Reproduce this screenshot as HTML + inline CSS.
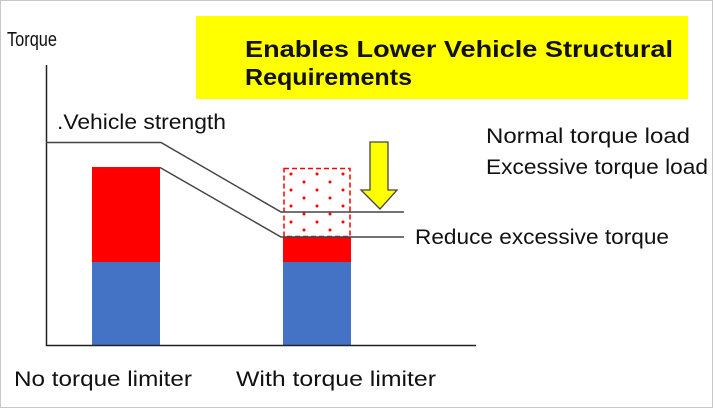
<!DOCTYPE html>
<html><head><meta charset="utf-8"><style>
html,body{margin:0;padding:0;background:#fff;}
svg{display:block;}
text{font-family:"Liberation Sans",sans-serif;fill:#111;}
</style></head><body>
<svg width="715" height="409" viewBox="0 0 715 409" xmlns="http://www.w3.org/2000/svg">
<defs>
<pattern id="dots" x="283" y="168" width="26" height="16" patternUnits="userSpaceOnUse">
<circle cx="8" cy="6" r="1.5" fill="#f00"/>
<circle cx="21" cy="14" r="1.5" fill="#f00"/>
</pattern>
</defs>
<rect x="0.5" y="0.5" width="712" height="407" fill="#fff" stroke="#c8c8c8"/>
<rect x="196" y="16" width="492" height="83" fill="#ffff00"/>
<text x="245" y="57" font-size="23" font-weight="bold" textLength="428" lengthAdjust="spacingAndGlyphs" fill="#000">Enables Lower Vehicle Structural</text>
<text x="245" y="85" font-size="23" font-weight="bold" textLength="167" lengthAdjust="spacingAndGlyphs" fill="#000">Requirements</text>
<text x="7" y="46" font-size="20" textLength="50" lengthAdjust="spacingAndGlyphs">Torque</text>
<text x="57" y="129" font-size="21" textLength="169" lengthAdjust="spacingAndGlyphs">.Vehicle strength</text>
<text x="486" y="143" font-size="21" textLength="204" lengthAdjust="spacingAndGlyphs">Normal torque load</text>
<text x="486" y="174" font-size="21" textLength="222" lengthAdjust="spacingAndGlyphs">Excessive torque load</text>
<text x="415" y="244" font-size="21" textLength="254" lengthAdjust="spacingAndGlyphs">Reduce excessive torque</text>
<text x="14" y="386" font-size="21" textLength="178" lengthAdjust="spacingAndGlyphs">No torque limiter</text>
<text x="236" y="386" font-size="21" textLength="200" lengthAdjust="spacingAndGlyphs">With torque limiter</text>
<rect x="92" y="167" width="68" height="95" fill="#ff0000"/>
<rect x="92" y="262" width="68" height="83" fill="#4472c4"/>
<rect x="283" y="237" width="68" height="25" fill="#ff0000"/>
<rect x="283" y="262" width="68" height="83" fill="#4472c4"/>
<rect x="284" y="168.5" width="66" height="68" fill="url(#dots)" stroke="#ff0000" stroke-width="1.5" stroke-dasharray="5,3"/>
<path d="M46.5 65 V345.5 H476" fill="none" stroke="#222" stroke-width="1.5"/>
<path d="M46 142.5 H161 L281 212 H404" fill="none" stroke="#444" stroke-width="1.5"/>
<path d="M160 167.5 L281 237 H404" fill="none" stroke="#444" stroke-width="1.5"/>
<path d="M370 142 H388 V190 H397 L380 209 L361 190 H370 Z" fill="#ffff00" stroke="#444" stroke-width="1.3"/>
</svg>
</body></html>
